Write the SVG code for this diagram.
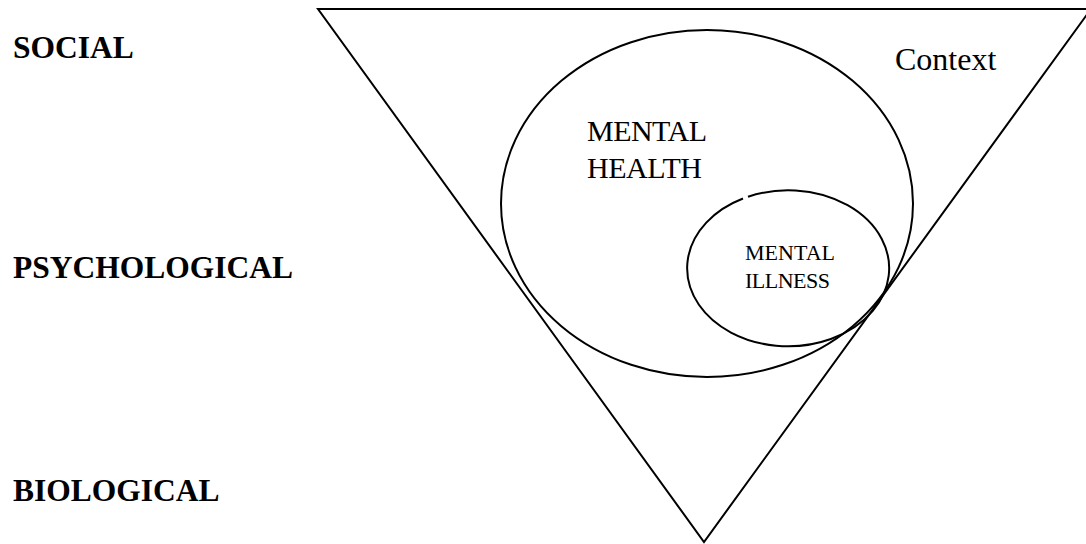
<svg xmlns="http://www.w3.org/2000/svg" width="1086" height="544" viewBox="0 0 1086 544">
<style>
.shape{fill:none;stroke:#000;stroke-width:2}
.side{font-family:"Liberation Serif",serif;font-weight:bold;font-size:31.5px;fill:#000}
.lbl{font-family:"Liberation Serif",serif;fill:#000}
</style>
<rect width="1086" height="544" fill="#fff"/>
<g id="labels">
<text class="side" x="13" y="58">SOCIAL</text>
<text class="side" x="13" y="278">PSYCHOLOGICAL</text>
<text class="side" x="13" y="501">BIOLOGICAL</text>
</g>
<g id="context">
<polygon class="shape" points="318,9 1091,9 704,542"/>
<text class="lbl" x="895" y="70" font-size="32">Context</text>
</g>
<g id="mental-health">
<ellipse class="shape" cx="707" cy="203.5" rx="206" ry="173.5"/>
<text class="lbl" font-size="30"><tspan x="587" y="141" textLength="120">MENTAL</tspan><tspan x="587" y="178" textLength="115">HEALTH</tspan></text>
</g>
<g id="mental-illness">
<path class="shape" d="M 748 196.7 A 101 78 0 1 1 743 198.5"/>
<text class="lbl" font-size="22"><tspan x="745" y="260" textLength="90">MENTAL</tspan><tspan x="745" y="288" textLength="85">ILLNESS</tspan></text>
</g>
<g id="connectors"></g>
</svg>
